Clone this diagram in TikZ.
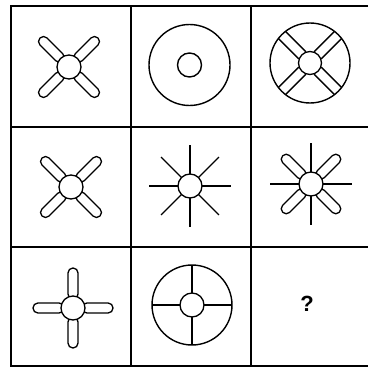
\documentclass[tikz,border=0pt]{standalone}
\usepackage{fontspec}
\setsansfont{Liberation Sans}
\begin{document}
\begin{tikzpicture}[x=1pt,y=-1pt,line width=1.4pt,
  petal/.style={rounded corners=4.9pt,line width=1.3pt},
  hub/.style={fill=white,line width=1.3pt}]
\useasboundingbox (0,0) rectangle (368,369);
% grid
\draw[line width=1.6pt] (368,6)--(11,6)--(11,366)--(368,366);
\draw[line width=1.6pt] (11,127)--(368,127);
\draw[line width=1.6pt] (11,247)--(368,247);
\draw[line width=1.6pt] (131,6)--(131,366);
\draw[line width=1.6pt] (251,6)--(251,366);
% row 1
\draw[petal,shift={(69,67)},rotate=45] (9,-5) rectangle (41,5);
\draw[petal,shift={(69,67)},rotate=135] (9,-5) rectangle (41,5);
\draw[petal,shift={(69,67)},rotate=225] (9,-5) rectangle (41,5);
\draw[petal,shift={(69,67)},rotate=315] (9,-5) rectangle (41,5);
\draw[hub] (69,67) circle (12);
\draw (189.5,65) circle (40.5);
\draw (189.5,65) circle (12);
\draw (310,63) circle (40);
\draw[shift={(310,63)},rotate=45] (10.9,5)--(39.7,5) (10.9,-5)--(39.7,-5);
\draw[shift={(310,63)},rotate=135] (10.9,5)--(39.7,5) (10.9,-5)--(39.7,-5);
\draw[shift={(310,63)},rotate=225] (10.9,5)--(39.7,5) (10.9,-5)--(39.7,-5);
\draw[shift={(310,63)},rotate=315] (10.9,5)--(39.7,5) (10.9,-5)--(39.7,-5);
\draw[hub] (310,63) circle (11.5);
% row 2
\draw[petal,shift={(71,187)},rotate=45] (9,-5) rectangle (41,5);
\draw[petal,shift={(71,187)},rotate=135] (9,-5) rectangle (41,5);
\draw[petal,shift={(71,187)},rotate=225] (9,-5) rectangle (41,5);
\draw[petal,shift={(71,187)},rotate=315] (9,-5) rectangle (41,5);
\draw[hub] (71,187) circle (12);
\draw[shift={(190,186)},rotate=0] (12,0)--(41,0);
\draw[shift={(190,186)},rotate=45] (12,0)--(41,0);
\draw[shift={(190,186)},rotate=90] (12,0)--(41,0);
\draw[shift={(190,186)},rotate=135] (12,0)--(41,0);
\draw[shift={(190,186)},rotate=180] (12,0)--(41,0);
\draw[shift={(190,186)},rotate=225] (12,0)--(41,0);
\draw[shift={(190,186)},rotate=270] (12,0)--(41,0);
\draw[shift={(190,186)},rotate=315] (12,0)--(41,0);
\draw[hub] (190,186) circle (12);
\draw[petal,shift={(311,184)},rotate=45] (9,-5) rectangle (40,5);
\draw[petal,shift={(311,184)},rotate=135] (9,-5) rectangle (40,5);
\draw[petal,shift={(311,184)},rotate=225] (9,-5) rectangle (40,5);
\draw[petal,shift={(311,184)},rotate=315] (9,-5) rectangle (40,5);
\draw[shift={(311,184)},rotate=0] (12,0)--(41,0);
\draw[shift={(311,184)},rotate=90] (12,0)--(41,0);
\draw[shift={(311,184)},rotate=180] (12,0)--(41,0);
\draw[shift={(311,184)},rotate=270] (12,0)--(41,0);
\draw[hub] (311,184) circle (12);
% row 3
\draw[petal,shift={(73,308)},rotate=0] (9,-5) rectangle (40,5);
\draw[petal,shift={(73,308)},rotate=90] (9,-5) rectangle (40,5);
\draw[petal,shift={(73,308)},rotate=180] (9,-5) rectangle (40,5);
\draw[petal,shift={(73,308)},rotate=270] (9,-5) rectangle (40,5);
\draw[hub] (73,308) circle (12);
\draw (192,305) circle (40);
\draw[shift={(192,305)},rotate=0] (12,0)--(40,0);
\draw[shift={(192,305)},rotate=90] (12,0)--(40,0);
\draw[shift={(192,305)},rotate=180] (12,0)--(40,0);
\draw[shift={(192,305)},rotate=270] (12,0)--(40,0);
\draw[hub] (192,305) circle (12);
\node[font=\sffamily\bfseries\fontsize{22}{26}\selectfont] (ask) at (307,304) {?};
\end{tikzpicture}
\end{document}
